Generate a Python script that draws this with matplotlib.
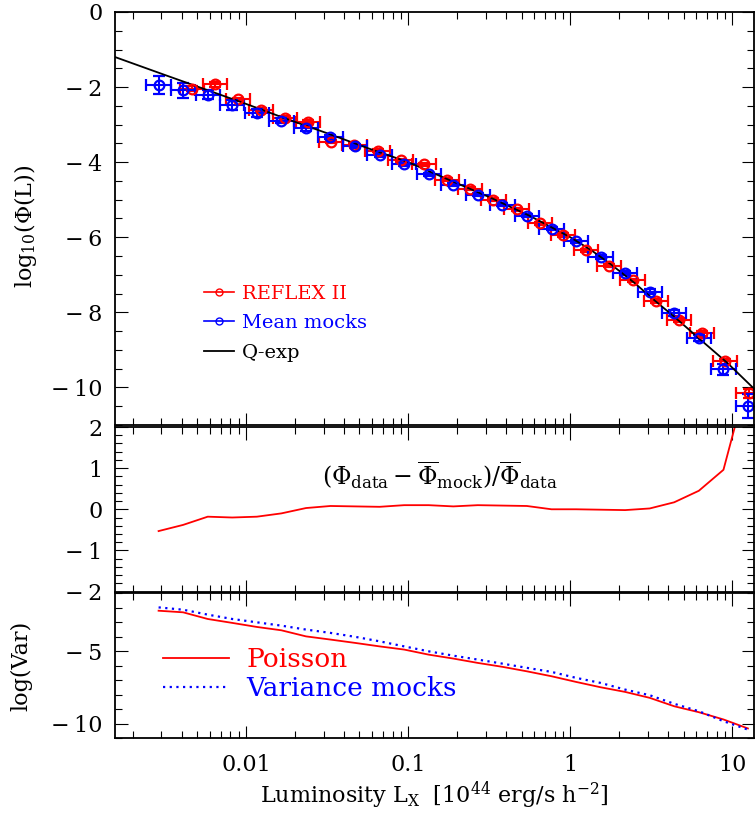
import numpy as np
import matplotlib.pyplot as plt
from matplotlib.ticker import (MultipleLocator, FixedLocator, FixedFormatter, NullFormatter,
                               LogLocator, FuncFormatter)
from matplotlib.lines import Line2D

plt.rcParams['font.family'] = ['DejaVu Serif']
plt.rcParams['mathtext.fontset'] = 'dejavuserif'

# ---- REFLEX II luminosity function ----
L_reflex = [0.00462, 0.00643, 0.00893, 0.0124, 0.0173, 0.0240, 0.0334, 0.0465, 0.0646,
            0.0897, 0.125, 0.173, 0.241, 0.335, 0.466, 0.647, 0.900, 1.25, 1.74, 2.42,
            3.37, 4.68, 6.50, 9.04, 12.6]
phi_reflex = [-2.04, -1.93, -2.33, -2.62, -2.82, -2.93, -3.46, -3.53, -3.70, -3.95, -4.05,
              -4.47, -4.71, -5.00, -5.25, -5.63, -5.94, -6.34, -6.76, -7.15, -7.70, -8.20,
              -8.56, -9.30, -10.16]
err_reflex = [0.06, 0.06, 0.05, 0.05, 0.05, 0.05, 0.04, 0.04, 0.04, 0.04, 0.04, 0.04, 0.04,
              0.04, 0.04, 0.04, 0.04, 0.04, 0.04, 0.05, 0.05, 0.05, 0.06, 0.07, 0.12]

# ---- mean of the mocks ----
L_mock = [0.00288, 0.00408, 0.00579, 0.00820, 0.01164, 0.01648, 0.02339, 0.03311, 0.04699,
          0.06653, 0.09441, 0.1337, 0.1897, 0.2685, 0.3811, 0.5395, 0.7656, 1.084, 1.538,
          2.178, 3.090, 4.375, 6.209, 8.810, 12.47]
phi_mock = [-1.95, -2.09, -2.20, -2.47, -2.69, -2.90, -3.10, -3.32, -3.57, -3.82, -4.05,
            -4.32, -4.60, -4.87, -5.13, -5.43, -5.77, -6.11, -6.52, -6.95, -7.45, -8.02,
            -8.69, -9.52, -10.50]
err_mock = [0.24, 0.20, 0.13, 0.13, 0.10, 0.07, 0.06, 0.05, 0.05, 0.04, 0.04, 0.04, 0.04,
            0.04, 0.04, 0.04, 0.04, 0.05, 0.05, 0.05, 0.06, 0.07, 0.08, 0.14, 0.32]

# ---- Q-exp model curve ----
L_qexp = [0.00155, 0.00316, 0.01, 0.0178, 0.0316, 0.0582, 0.1, 0.178, 0.316, 0.562, 1.0,
          1.33, 1.78, 2.51, 3.35, 4.47, 6.17, 9.33, 13.8]
phi_qexp = [-1.20, -1.68, -2.45, -2.85, -3.23, -3.65, -4.00, -4.47, -4.93, -5.43, -6.00,
            -6.33, -6.72, -7.23, -7.70, -8.15, -8.68, -9.35, -10.06]

# ---- relative difference data vs mocks ----
ratio = [-0.53, -0.38, -0.18, -0.20, -0.18, -0.10, 0.03, 0.08, 0.07, 0.06, 0.10, 0.10, 0.07,
         0.10, 0.09, 0.08, 0.00, 0.00, -0.01, -0.02, 0.02, 0.17, 0.45, 0.96, 3.2]

# ---- variances ----
var_poisson = [-2.20, -2.31, -2.77, -3.04, -3.32, -3.55, -3.97, -4.19, -4.42, -4.66, -4.88,
               -5.23, -5.50, -5.80, -6.07, -6.38, -6.72, -7.11, -7.48, -7.80, -8.21, -8.79,
               -9.20, -9.70, -10.32]
var_mocks = [-1.97, -2.13, -2.47, -2.77, -3.00, -3.23, -3.50, -3.73, -4.00, -4.31, -4.66,
             -5.00, -5.30, -5.57, -5.85, -6.14, -6.42, -6.83, -7.18, -7.64, -8.03, -8.62,
             -9.13, -9.82, -10.40]

RED = '#ff0000'
BLUE = '#0000ff'
XLIM = (0.00155, 13.6)
half_bin = 0.075   # dex, half width of the luminosity bins


def xerr_of(L):
    L = np.asarray(L)
    return [L - L * 10**-half_bin, L * 10**half_bin - L]


def ylab(v, pos):
    """Integer tick label with a spaced minus sign, as in the original."""
    v = int(round(v))
    return '\u2212\u2009%d' % -v if v < 0 else '%d' % v


def style_axis(ax):
    ax.set_xscale('log')
    ax.set_xlim(*XLIM)
    ax.tick_params(which='both', direction='in', top=True, right=True, width=0.8)
    ax.tick_params(which='major', length=9, labelsize=16, pad=9)
    ax.tick_params(which='minor', length=5)
    ax.xaxis.set_major_locator(FixedLocator([0.01, 0.1, 1, 10]))
    ax.xaxis.set_minor_locator(LogLocator(base=10, subs=np.arange(2, 10)))
    ax.xaxis.set_minor_formatter(NullFormatter())
    ax.yaxis.set_major_formatter(FuncFormatter(ylab))
    for s in ax.spines.values():
        s.set_linewidth(1.3)


fig = plt.figure(figsize=(7.55, 8.14), dpi=100)
ax1 = fig.add_axes([0.1523, 0.4779, 0.8464, 0.5074])
ax2 = fig.add_axes([0.1523, 0.2733, 0.8464, 0.2021])
ax3 = fig.add_axes([0.1523, 0.0930, 0.8464, 0.1781])

# top panel: luminosity function
ax1.errorbar(L_reflex, phi_reflex, xerr=xerr_of(L_reflex), yerr=err_reflex, fmt='o',
             color=RED, mfc='none', mec=RED, ms=7, mew=1.6, elinewidth=1.5, capsize=4,
             capthick=1.5)
ax1.errorbar(L_mock, phi_mock, xerr=xerr_of(L_mock), yerr=err_mock, fmt='o',
             color=BLUE, mfc='none', mec=BLUE, ms=7, mew=1.6, elinewidth=1.5, capsize=4,
             capthick=1.5)
ax1.plot(L_qexp, phi_qexp, color='black', lw=1.3)
style_axis(ax1)
ax1.set_ylim(-11, 0)
ax1.yaxis.set_major_locator(MultipleLocator(2))
ax1.yaxis.set_minor_locator(MultipleLocator(0.5))
ax1.xaxis.set_major_formatter(NullFormatter())
ax1.set_ylabel(r'log$_{10}$(Φ(L))', fontsize=16)
ax1.yaxis.set_label_coords(-0.119, 0.48)

handles = [Line2D([], [], color=RED, lw=1.2, marker='o', mfc='none', ms=5),
           Line2D([], [], color=BLUE, lw=1.2, marker='o', mfc='none', ms=5),
           Line2D([], [], color='black', lw=1.3)]
ax1.legend(handles, ['REFLEX II', 'Mean mocks', 'Q-exp'], loc='upper left',
           bbox_to_anchor=(0.14, 0.34), frameon=False, fontsize=14, handlelength=1.5,
           handletextpad=0.45, labelspacing=0.6, borderpad=0, borderaxespad=0,
           labelcolor='linecolor')

# middle panel: relative difference
ax2.plot(L_mock, ratio, color=RED, lw=1.3)
style_axis(ax2)
ax2.set_ylim(-2, 2)
ax2.yaxis.set_major_locator(MultipleLocator(1))
ax2.yaxis.set_minor_locator(MultipleLocator(0.2))
ax2.xaxis.set_major_formatter(NullFormatter())
ax2.text(0.509, 0.71, r'$(\Phi_{\rm data}-\overline{\Phi}_{\rm mock})/\overline{\Phi}_{\rm data}$',
         transform=ax2.transAxes, ha='center', va='center', fontsize=17)

# bottom panel: variances
ax3.plot(L_mock, var_poisson, color=RED, lw=1.3, label='Poisson')
ax3.plot(L_mock, var_mocks, color=BLUE, lw=1.6, ls=(0, (1, 2)), label='Variance mocks')
style_axis(ax3)
ax3.set_ylim(-11, -1)
ax3.yaxis.set_major_locator(MultipleLocator(5))
ax3.yaxis.set_minor_locator(MultipleLocator(1))
ax3.xaxis.set_major_formatter(FixedFormatter(['0.01', '0.1', '1', '10']))
ax3.tick_params(axis='x', which='major', pad=11)
ax3.set_ylabel('log(Var)', fontsize=16)
ax3.yaxis.set_label_coords(-0.13, 0.5)
ax3.set_xlabel(r'Luminosity L$_{\rm X}$  [10$^{44}$ erg/s h$^{-2}$]', fontsize=16, labelpad=3)
ax3.legend(loc='upper left', bbox_to_anchor=(0.075, 0.63), frameon=False, fontsize=19,
           handlelength=2.5, handletextpad=0.65, labelspacing=0.15, borderpad=0,
           borderaxespad=0, labelcolor='linecolor')

fig.savefig('out.png', dpi=100)
